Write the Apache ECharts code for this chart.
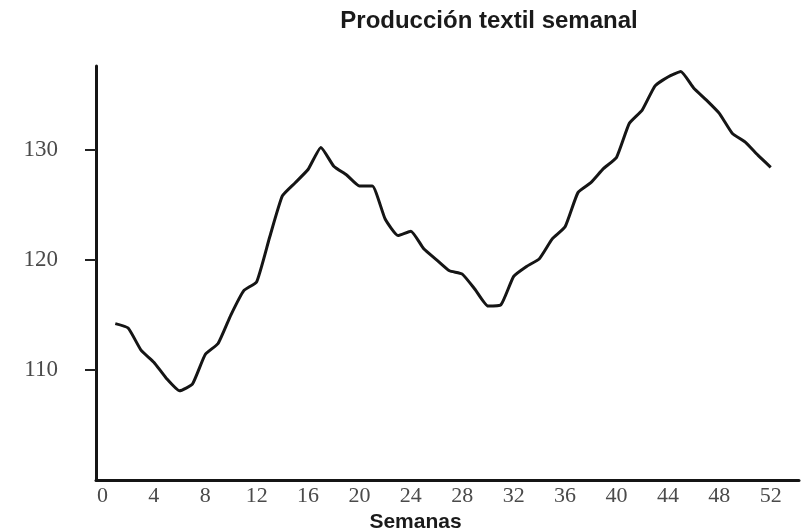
<!DOCTYPE html>
<html>
<head>
<meta charset="utf-8">
<script src="https://cdn.jsdelivr.net/npm/echarts@6/dist/echarts.min.js"></script>
<style>html,body{margin:0;padding:0;background:#fff}#c{width:810px;height:531px}</style>
</head>
<body>
<div id="c"></div>
<script>
var weeks = [1,2,3,4,5,6,7,8,9,10,11,12,13,14,15,16,17,18,19,20,21,22,23,24,25,26,
             27,28,29,30,31,32,33,34,35,36,37,38,39,40,41,42,43,44,45,46,47,48,49,50,51,52];
var production = [114.2,113.8,111.8,110.7,109.2,108.1,108.7,111.4,112.4,115.0,117.2,118.0,122.0,125.8,127.0,128.2,
                  130.2,128.5,127.7,126.7,126.7,123.7,122.2,122.6,121.0,120.0,119.0,118.7,117.3,115.8,115.9,118.5,
                  119.4,120.1,121.9,123.0,126.1,127.0,128.3,129.3,132.4,133.6,135.8,136.6,137.1,135.6,134.5,133.3,
                  131.5,130.7,129.5,128.4];
var xTicks = [0,4,8,12,16,20,24,28,32,36,40,44,48,52];
var yTicks = [110,120,130];
var titleText = 'Producción textil semanal';
var xName = 'Semanas';

var chart = echarts.init(document.getElementById('c'), null, {renderer: 'canvas'});
var seriesData = weeks.map(function (w, i) { return [w, production[i]]; });
chart.setOption({
  backgroundColor: '#ffffff',
  animation: false,
  title: {
    text: titleText,
    left: 484, top: 4,
    textAlign: 'center',
    textStyle: {fontFamily: 'Liberation Sans, Arial, sans-serif', fontWeight: 'bold', fontSize: 24, color: '#1a1a1a'}
  },
  grid: {left: 96, right: 11, top: 66, bottom: 51, outerBoundsMode: 'none'},
  xAxis: {
    type: 'value', min: -0.5, max: 54.2,
    name: xName, nameLocation: 'middle', nameGap: 22,
    nameTextStyle: {fontFamily: 'Liberation Sans, Arial, sans-serif', fontWeight: 'bold', fontSize: 21, color: '#1a1a1a', padding: [0, 64, 0, 0]},
    axisLine: {onZero: false, lineStyle: {color: '#151515', width: 3}},
    axisTick: {show: false},
    splitLine: {show: false},
    axisLabel: {customValues: xTicks, margin: 5, fontFamily: 'Liberation Serif, serif', fontSize: 22, color: '#4a4a4a'}
  },
  yAxis: {
    type: 'value', min: 100, max: 137.6,
    axisLine: {onZero: false, lineStyle: {color: '#151515', width: 3}},
    axisTick: {customValues: yTicks, length: 11, lineStyle: {color: '#222', width: 2}},
    splitLine: {show: false},
    axisLabel: {customValues: yTicks, margin: 38, fontFamily: 'Liberation Serif, serif', fontSize: 23, color: '#4a4a4a'}
  },
  series: [{
    type: 'line',
    data: seriesData,
    showSymbol: false,
    smooth: 0.15,
    lineStyle: {color: '#151515', width: 3}
  }]
});
</script>
</body>
</html>
